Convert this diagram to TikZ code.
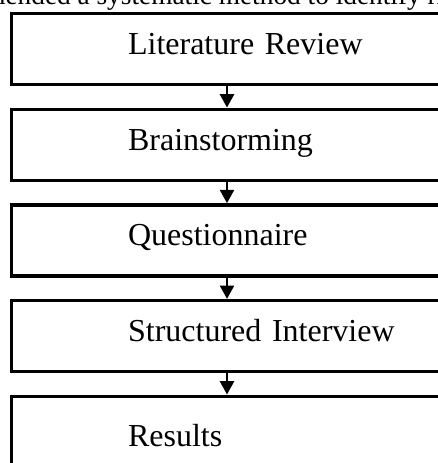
\documentclass[tikz,border=0pt]{standalone}
\usepackage{fontspec}
\setmainfont{Liberation Serif}
\usetikzlibrary{arrows.meta,positioning}
\tikzset{
      mystepblock/.style={
        draw=black,
        line width=2.5pt,
        rectangle,
        anchor=north west,
        align=left,
        text width=240pt,
        inner xsep=87.4pt,
        inner ysep=15pt,
        text height=15.75pt,
        text depth=7.5pt,
        font=\fontsize{24}{28}\selectfont
      },
      myarrow/.style={
        -{Triangle[width=10.5pt,length=10pt]},
        line width=1.8pt
      },
    }

\begin{document}
\begin{tikzpicture}[node distance=16pt]

            \useasboundingbox (0,0) rectangle (328.5pt,-347.25pt);
            \clip (0,0) rectangle (328.5pt,-347.25pt);

            %Text line above the chart
            \node[anchor=base west,inner sep=0pt,font=\fontsize{20.5}{24}\selectfont]
              (toptext) at (-12pt,-3.6pt)
              {mended a systematic method to identify ri};

            %Steps
            \node[mystepblock] (litreview) at (7.4pt,-8.9pt) {Literature Review};
            \node[mystepblock,below=of litreview] (brainstorm) {Brainstorming};
            \node[mystepblock,below=of brainstorm] (questionnaire) {Questionnaire};
            \node[mystepblock,below=of questionnaire] (interview) {Structured Interview};
            \node[mystepblock,below=of interview,text height=22.5pt,text depth=0.75pt]
              (results) {Results};

            %Arrows
            \coordinate (arrowx) at (170.25pt,0);
            \draw [myarrow] (litreview.south -| arrowx) -- (brainstorm.north -| arrowx);
            \draw [myarrow] (brainstorm.south -| arrowx) -- (questionnaire.north -| arrowx);
            \draw [myarrow] (questionnaire.south -| arrowx) -- (interview.north -| arrowx);
            \draw [myarrow] (interview.south -| arrowx) -- (results.north -| arrowx);

          \end{tikzpicture}
\end{document}
